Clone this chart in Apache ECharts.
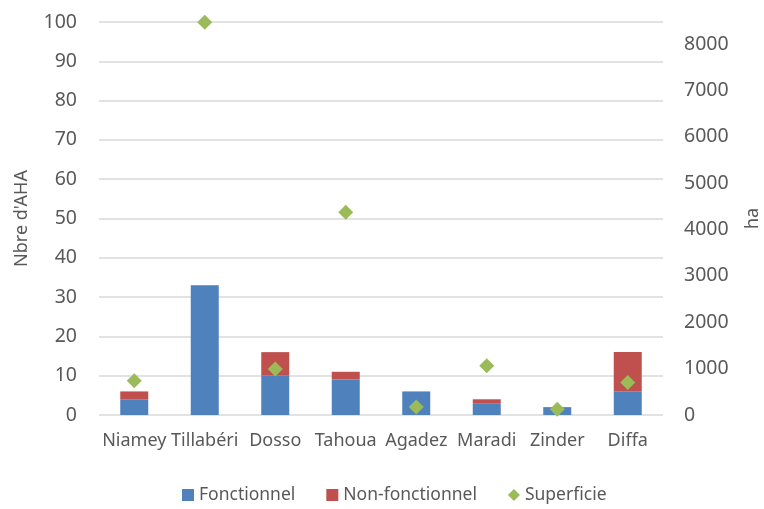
<!DOCTYPE html>
<html>
<head>
<meta charset="utf-8">
<script src="https://cdn.jsdelivr.net/npm/echarts@6/dist/echarts.min.js"></script>
<style>
  html, body { margin: 0; padding: 0; background: #fff; }
  #chart { width: 764px; height: 509px; }
</style>
</head>
<body>
<div id="chart"></div>
<script>
// Aménagements hydro-agricoles par région
const regions = ['Niamey', 'Tillabéri', 'Dosso', 'Tahoua', 'Agadez', 'Maradi', 'Zinder', 'Diffa'];
const fonctionnel = [4, 33, 10, 9, 6, 3, 2, 6];
const nonFonctionnel = [2, 0, 6, 2, 0, 1, 0, 10];
const superficie = [740, 8470, 990, 4370, 175, 1060, 125, 700];

const leftTicks = { min: 0, max: 100, interval: 10 };
const rightTicks = { min: 0, max: 8475, interval: 1000 };

const FONT = 'Noto Sans';
const TXT = '#595959';

const chart = echarts.init(document.getElementById('chart'));
chart.setOption({
  animation: false,
  textStyle: { fontFamily: FONT, color: TXT },
  grid: { left: 99, right: 101, top: 22, bottom: 94, outerBoundsMode: 'none', containLabel: false },
  legend: {
    bottom: 0,
    left: 177,
    itemWidth: 12,
    itemHeight: 12,
    itemGap: 31,
    textStyle: { fontFamily: FONT, fontSize: 17.5, color: TXT },
    data: [
      { name: 'Fonctionnel', icon: 'rect' },
      { name: 'Non-fonctionnel', icon: 'rect' },
      { name: 'Superficie', icon: 'diamond', itemStyle: { color: '#9BBB59' } }
    ]
  },
  xAxis: {
    type: 'category',
    data: regions,
    axisLine: { show: false },
    axisTick: { show: false },
    axisLabel: { fontFamily: FONT, fontSize: 18, color: TXT, margin: 17, interval: 0 }
  },
  yAxis: [
    {
      type: 'value',
      min: leftTicks.min, max: leftTicks.max, interval: leftTicks.interval,
      name: "Nbre d'AHA",
      nameLocation: 'middle',
      nameRotate: 90,
      nameGap: 68,
      nameTextStyle: { fontFamily: FONT, fontSize: 18, color: TXT },
      axisLine: { show: false },
      axisTick: { show: false },
      axisLabel: { fontFamily: FONT, fontSize: 19.5, color: TXT, margin: 22 },
      splitLine: { lineStyle: { color: '#D9D9D9', width: 1.5 } }
    },
    {
      type: 'value',
      min: rightTicks.min, max: rightTicks.max, interval: rightTicks.interval,
      name: 'ha',
      nameLocation: 'middle',
      nameRotate: 90,
      nameGap: 81,
      nameTextStyle: { fontFamily: FONT, fontSize: 18, color: TXT },
      axisLine: { show: false },
      axisTick: { show: false },
      axisLabel: {
        fontFamily: FONT, fontSize: 19.5, color: TXT, margin: 21,
        formatter: v => (v % 1000 === 0 ? String(v) : '')
      },
      splitLine: { show: false }
    }
  ],
  series: [
    {
      name: 'Fonctionnel',
      type: 'bar',
      stack: 'aha',
      barWidth: 28,
      data: fonctionnel,
      itemStyle: { color: '#4F81BD' }
    },
    {
      name: 'Non-fonctionnel',
      type: 'bar',
      stack: 'aha',
      barWidth: 28,
      data: nonFonctionnel,
      itemStyle: { color: '#C0504D' }
    },
    {
      name: 'Superficie',
      type: 'scatter',
      yAxisIndex: 1,
      symbol: 'diamond',
      symbolSize: 15,
      clip: false,
      data: superficie,
      itemStyle: { color: '#9BBB59', opacity: 1 }
    }
  ]
});
</script>
</body>
</html>
